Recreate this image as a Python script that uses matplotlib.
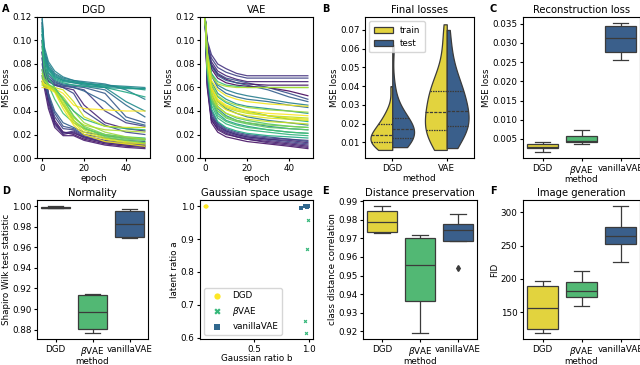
import numpy as np
import pandas as pd
import matplotlib
matplotlib.use("Agg")
import matplotlib.pyplot as plt
import seaborn as sns

plt.rcParams['font.family'] = ['DejaVu Sans']
plt.rcParams['font.size'] = 6.5
plt.rcParams['axes.titlesize'] = 7.2
plt.rcParams['axes.labelsize'] = 6.3
plt.rcParams['xtick.labelsize'] = 6.3
plt.rcParams['ytick.labelsize'] = 6.3
plt.rcParams['xtick.major.size'] = 2.5
plt.rcParams['ytick.major.size'] = 2.5
plt.rcParams['xtick.major.pad'] = 1.5
plt.rcParams['ytick.major.pad'] = 1.5
plt.rcParams['axes.linewidth'] = 0.8

# ---- data ----
epochs = [0, 1, 3, 6, 10, 15, 20, 30, 40, 49]

# DGD loss curves (colour value, losses at the epochs above)
dgd_c = [0.05, 0.10, 0.15, 0.08, 0.20, 0.25, 0.12, 0.30,
         0.10, 0.18, 0.28, 0.22, 0.35, 0.32,
         0.45, 0.50, 0.55, 0.42, 0.60, 0.48, 0.52,
         0.70, 0.75, 0.80, 0.85, 0.90, 0.95, 1.00, 0.98, 0.88, 0.65, 0.92, 0.78]
dgd_loss = [
    [0.115, 0.085, 0.055, 0.032, 0.022, 0.020, 0.016, 0.012, 0.010, 0.009],
    [0.100, 0.075, 0.050, 0.030, 0.020, 0.022, 0.017, 0.013, 0.011, 0.010],
    [0.090, 0.070, 0.045, 0.028, 0.021, 0.023, 0.018, 0.014, 0.012, 0.011],
    [0.070, 0.060, 0.042, 0.026, 0.019, 0.019, 0.015, 0.011, 0.009, 0.008],
    [0.085, 0.068, 0.050, 0.035, 0.025, 0.024, 0.019, 0.015, 0.013, 0.012],
    [0.075, 0.065, 0.052, 0.038, 0.027, 0.025, 0.020, 0.017, 0.015, 0.014],
    [0.065, 0.062, 0.048, 0.030, 0.022, 0.021, 0.018, 0.013, 0.011, 0.010],
    [0.080, 0.068, 0.055, 0.040, 0.030, 0.026, 0.022, 0.019, 0.017, 0.016],
    [0.090, 0.075, 0.065, 0.062, 0.060, 0.058, 0.045, 0.030, 0.025, 0.023],
    [0.095, 0.078, 0.068, 0.063, 0.061, 0.060, 0.058, 0.040, 0.030, 0.027],
    [0.100, 0.080, 0.070, 0.065, 0.062, 0.061, 0.060, 0.055, 0.035, 0.030],
    [0.085, 0.072, 0.066, 0.062, 0.060, 0.055, 0.040, 0.028, 0.022, 0.020],
    [0.105, 0.085, 0.072, 0.066, 0.063, 0.062, 0.061, 0.058, 0.045, 0.035],
    [0.090, 0.076, 0.068, 0.064, 0.062, 0.060, 0.057, 0.048, 0.032, 0.028],
    [0.120, 0.095, 0.082, 0.074, 0.069, 0.066, 0.064, 0.062, 0.061, 0.060],
    [0.115, 0.090, 0.078, 0.071, 0.067, 0.065, 0.063, 0.061, 0.060, 0.059],
    [0.110, 0.088, 0.075, 0.068, 0.065, 0.064, 0.063, 0.062, 0.060, 0.058],
    [0.118, 0.092, 0.080, 0.072, 0.068, 0.066, 0.065, 0.063, 0.058, 0.050],
    [0.105, 0.085, 0.073, 0.067, 0.064, 0.062, 0.061, 0.060, 0.056, 0.052],
    [0.112, 0.088, 0.077, 0.070, 0.066, 0.064, 0.062, 0.060, 0.048, 0.040],
    [0.108, 0.086, 0.076, 0.069, 0.066, 0.065, 0.064, 0.060, 0.059, 0.059],
    [0.095, 0.075, 0.062, 0.050, 0.038, 0.030, 0.025, 0.020, 0.018, 0.017],
    [0.070, 0.066, 0.062, 0.058, 0.045, 0.032, 0.025, 0.019, 0.016, 0.015],
    [0.068, 0.065, 0.062, 0.060, 0.050, 0.035, 0.027, 0.020, 0.017, 0.016],
    [0.065, 0.063, 0.061, 0.058, 0.052, 0.040, 0.030, 0.022, 0.018, 0.016],
    [0.062, 0.061, 0.060, 0.058, 0.048, 0.032, 0.024, 0.017, 0.014, 0.013],
    [0.064, 0.062, 0.060, 0.057, 0.045, 0.030, 0.022, 0.016, 0.013, 0.012],
    [0.066, 0.063, 0.061, 0.059, 0.055, 0.045, 0.042, 0.041, 0.040, 0.040],
    [0.060, 0.060, 0.059, 0.056, 0.042, 0.028, 0.020, 0.014, 0.012, 0.010],
    [0.072, 0.066, 0.062, 0.057, 0.046, 0.034, 0.028, 0.024, 0.023, 0.022],
    [0.100, 0.080, 0.068, 0.060, 0.050, 0.040, 0.033, 0.027, 0.025, 0.024],
    [0.063, 0.062, 0.061, 0.060, 0.058, 0.048, 0.035, 0.027, 0.026, 0.026],
    [0.075, 0.068, 0.063, 0.059, 0.050, 0.036, 0.026, 0.018, 0.015, 0.013],
]

vae_c = [0.05, 0.10, 0.15, 0.20, 0.08, 0.25, 0.12, 0.18,
         0.15, 0.20, 0.10, 0.25, 0.05, 0.30, 0.02,
         0.40, 0.45, 0.50, 0.35, 0.55, 0.42,
         0.65, 0.70, 0.75, 0.60, 0.68, 0.72, 0.62,
         0.90, 0.95, 1.00, 0.85, 0.92, 0.98, 0.88, 0.96, 0.80]
vae_loss = [
    [0.120, 0.060, 0.030, 0.022, 0.018, 0.016, 0.014, 0.012, 0.010, 0.008],
    [0.120, 0.065, 0.033, 0.024, 0.020, 0.018, 0.016, 0.013, 0.011, 0.009],
    [0.118, 0.068, 0.036, 0.026, 0.022, 0.019, 0.017, 0.015, 0.013, 0.011],
    [0.118, 0.070, 0.038, 0.028, 0.023, 0.020, 0.018, 0.016, 0.014, 0.012],
    [0.120, 0.062, 0.032, 0.025, 0.021, 0.018, 0.016, 0.014, 0.012, 0.010],
    [0.119, 0.072, 0.040, 0.030, 0.025, 0.022, 0.020, 0.018, 0.016, 0.014],
    [0.120, 0.064, 0.034, 0.027, 0.023, 0.020, 0.018, 0.016, 0.015, 0.013],
    [0.119, 0.066, 0.035, 0.029, 0.024, 0.021, 0.019, 0.017, 0.016, 0.015],
    [0.120, 0.100, 0.088, 0.080, 0.076, 0.072, 0.070, 0.070, 0.070, 0.070],
    [0.120, 0.098, 0.085, 0.077, 0.073, 0.070, 0.068, 0.068, 0.068, 0.068],
    [0.120, 0.096, 0.082, 0.074, 0.070, 0.067, 0.065, 0.065, 0.065, 0.065],
    [0.120, 0.095, 0.080, 0.072, 0.068, 0.066, 0.064, 0.060, 0.055, 0.050],
    [0.120, 0.094, 0.079, 0.071, 0.067, 0.064, 0.063, 0.062, 0.062, 0.062],
    [0.120, 0.093, 0.078, 0.070, 0.066, 0.064, 0.062, 0.058, 0.052, 0.048],
    [0.120, 0.092, 0.076, 0.068, 0.064, 0.062, 0.061, 0.060, 0.057, 0.053],
    [0.120, 0.085, 0.060, 0.048, 0.042, 0.038, 0.035, 0.032, 0.030, 0.028],
    [0.120, 0.082, 0.055, 0.042, 0.036, 0.032, 0.030, 0.027, 0.025, 0.024],
    [0.120, 0.088, 0.065, 0.055, 0.050, 0.046, 0.044, 0.042, 0.040, 0.038],
    [0.120, 0.090, 0.070, 0.060, 0.055, 0.052, 0.050, 0.048, 0.045, 0.043],
    [0.120, 0.078, 0.050, 0.038, 0.032, 0.029, 0.027, 0.024, 0.022, 0.021],
    [0.120, 0.092, 0.072, 0.062, 0.058, 0.055, 0.053, 0.050, 0.047, 0.045],
    [0.120, 0.075, 0.045, 0.034, 0.029, 0.026, 0.024, 0.022, 0.020, 0.019],
    [0.120, 0.078, 0.048, 0.036, 0.031, 0.028, 0.026, 0.024, 0.022, 0.021],
    [0.120, 0.080, 0.052, 0.040, 0.034, 0.031, 0.029, 0.026, 0.025, 0.024],
    [0.120, 0.072, 0.042, 0.031, 0.026, 0.023, 0.021, 0.019, 0.018, 0.017],
    [0.120, 0.090, 0.072, 0.065, 0.062, 0.061, 0.060, 0.060, 0.060, 0.060],
    [0.120, 0.083, 0.056, 0.044, 0.038, 0.034, 0.032, 0.029, 0.027, 0.026],
    [0.120, 0.086, 0.062, 0.052, 0.047, 0.043, 0.040, 0.036, 0.033, 0.031],
    [0.120, 0.082, 0.058, 0.048, 0.043, 0.040, 0.038, 0.036, 0.035, 0.034],
    [0.120, 0.080, 0.055, 0.046, 0.041, 0.038, 0.036, 0.034, 0.033, 0.032],
    [0.120, 0.084, 0.060, 0.050, 0.045, 0.042, 0.040, 0.038, 0.037, 0.036],
    [0.120, 0.086, 0.063, 0.053, 0.048, 0.045, 0.043, 0.041, 0.040, 0.039],
    [0.120, 0.078, 0.053, 0.043, 0.038, 0.035, 0.033, 0.031, 0.030, 0.029],
    [0.120, 0.088, 0.066, 0.058, 0.053, 0.050, 0.048, 0.046, 0.045, 0.044],
    [0.120, 0.090, 0.070, 0.063, 0.061, 0.060, 0.060, 0.060, 0.060, 0.060],
    [0.120, 0.083, 0.059, 0.049, 0.044, 0.041, 0.039, 0.036, 0.034, 0.033],
    [0.120, 0.076, 0.050, 0.040, 0.035, 0.032, 0.030, 0.028, 0.027, 0.026],
]

# final losses (violin)
dgd_train = [0.006, 0.007, 0.008, 0.009, 0.0095, 0.010, 0.010, 0.011, 0.012, 0.013, 0.014,
             0.014, 0.015, 0.016, 0.018, 0.020, 0.020, 0.022, 0.025, 0.028, 0.040]
dgd_test = [0.0075, 0.009, 0.010, 0.011, 0.012, 0.0125, 0.013, 0.014, 0.015, 0.016, 0.017,
            0.017, 0.018, 0.019, 0.021, 0.023, 0.024, 0.027, 0.030, 0.040, 0.062]
vae_train = [0.006, 0.010, 0.013, 0.015, 0.016, 0.0165, 0.017, 0.018, 0.020, 0.023, 0.026,
             0.030, 0.034, 0.036, 0.037, 0.0375, 0.039, 0.042, 0.050, 0.062, 0.073]
vae_test = [0.007, 0.012, 0.015, 0.017, 0.018, 0.019, 0.019, 0.020, 0.022, 0.025, 0.027,
            0.030, 0.033, 0.035, 0.037, 0.0375, 0.040, 0.045, 0.050, 0.058, 0.070]

methods = ['DGD', r'$\beta$VAE', 'vanillaVAE']
recon = [[0.0017, 0.0026, 0.0030, 0.0038, 0.0041],
         [0.0036, 0.0043, 0.0045, 0.0057, 0.0072],
         [0.0255, 0.0276, 0.0313, 0.0345, 0.0351]]
shapiro = [[0.9978, 0.9981, 0.9986, 0.9989, 0.9999],
           [0.877, 0.881, 0.8975, 0.914, 0.915],
           [0.9695, 0.9705, 0.9825, 0.995, 0.997]]
dist_corr = [[0.9727, 0.9735, 0.9788, 0.9848, 0.9872],
             [0.9193, 0.9365, 0.9558, 0.9703, 0.9720],
             [0.954, 0.9685, 0.9743, 0.9775, 0.9833]]
fid = [[119, 124, 156, 189, 197],
       [159, 172, 182, 195, 212],
       [226, 252, 264, 278, 309]]

gauss_b = [[0.05, 0.055, 0.06, 0.052, 0.058],
           [0.99, 0.98, 0.96, 0.97],
           [0.93, 0.965, 0.985, 0.99]]
gauss_a = [[1.0, 1.0, 1.0, 1.0, 1.0],
           [0.957, 0.871, 0.652, 0.615],
           [0.995, 1.0, 0.998, 1.0]]

box_cols = ['#e2d33e', '#52b874', '#3a5f8b']
dot_cols = ['#fde725', '#35b779', '#31688e']
dot_marks = ['o', 'X', 's']

W, H = 640, 365
fig = plt.figure(figsize=(6.4, 3.65), dpi=100)


def px(l, r, t, b):
    return [l / W, 1 - b / H, (r - l) / W, (b - t) / H]


def xlab(ax, text, gap):
    # put the x label a fixed number of pixels under the axes
    ax.set_xlabel(text)
    h = ax.get_position().height * H
    ax.xaxis.set_label_coords(0.5, -gap / h)


def boxes(ax, vals, title, ylabel):
    df = pd.DataFrame({'method': np.repeat(methods, [len(v) for v in vals]),
                       'v': np.concatenate(vals)})
    sns.boxplot(data=df, x='method', y='v', hue='method', palette=box_cols,
                saturation=1, linewidth=0.9, legend=False, ax=ax,
                flierprops=dict(marker='d', markersize=3, markerfacecolor='#3d3d3d'))
    ax.set_title(title, pad=3)
    ax.set_ylabel(ylabel, labelpad=1)


R1T, R1B = 17, 158
R2T, R2B = 200, 339

# A: training curves
for i, (name, cs, losses) in enumerate([('DGD', dgd_c, dgd_loss), ('VAE', vae_c, vae_loss)]):
    ax = fig.add_axes(px([37, 200][i], [150, 313][i], R1T, R1B))
    for c, l in zip(cs, losses):
        ax.plot(epochs, l, color=plt.cm.viridis(c), lw=0.9, alpha=0.9)
    ax.set_ylim(0, 0.12)
    ax.set_yticks(np.arange(0, 0.121, 0.02))
    ax.set_xticks([0, 20, 40])
    ax.set_title(name, pad=3)
    xlab(ax, 'epoch', 16)
    ax.set_ylabel('MSE loss', labelpad=1)

# B: final losses violin
ax = fig.add_axes(px(365, 474, R1T, R1B))
vdf = pd.DataFrame({
    'method': ['DGD'] * (len(dgd_train) + len(dgd_test)) + ['VAE'] * (len(vae_train) + len(vae_test)),
    'set': ['train'] * len(dgd_train) + ['test'] * len(dgd_test) + ['train'] * len(vae_train) + ['test'] * len(vae_test),
    'loss': dgd_train + dgd_test + vae_train + vae_test})
sns.violinplot(data=vdf, x='method', y='loss', hue='set', split=True, inner='quart',
               cut=0, density_norm='width', bw_adjust=1.1,
               palette=[box_cols[0], box_cols[2]], saturation=1, linewidth=0.9, ax=ax)
h, lab = ax.get_legend_handles_labels()
ax.legend(h, lab, loc='upper left', fontsize=6.3, handlelength=2.2, borderpad=0.5)
ax.set_yticks([0.01, 0.02, 0.03, 0.04, 0.05, 0.06, 0.07])
ax.set_ylim(0.0017, 0.0769)
ax.set_title('Final losses', pad=3)
xlab(ax, 'method', 16)
ax.set_ylabel('MSE loss', labelpad=1)

# C
ax = fig.add_axes(px(523, 640, R1T, R1B))
boxes(ax, recon, 'Reconstruction loss', 'MSE loss')
ax.set_yticks([0.005, 0.010, 0.015, 0.020, 0.025, 0.030, 0.035])
xlab(ax, 'method', 17.5)

# D
ax = fig.add_axes(px(37, 148, R2T, R2B))
boxes(ax, shapiro, 'Normality', 'Shapiro Wilk test statistic')
ax.set_yticks([0.88, 0.90, 0.92, 0.94, 0.96, 0.98, 1.00])
xlab(ax, 'method', 17.5)

# Gaussian space usage
ax = fig.add_axes(px(200, 313, R2T, R2B))
for k in range(3):
    ax.scatter(gauss_b[k], gauss_a[k], s=7, color=dot_cols[k], marker=dot_marks[k],
               linewidths=0, label=methods[k])
ax.set_xticks([0.5, 1.0])
ax.set_yticks([0.6, 0.7, 0.8, 0.9, 1.0])
ax.set_title('Gaussian space usage', pad=3)
xlab(ax, 'Gaussian ratio b', 15)
ax.set_ylabel('latent ratio a', labelpad=1)
ax.legend(loc='lower left', fontsize=6.3, markerscale=1.7)

# E
ax = fig.add_axes(px(363, 477, R2T, R2B))
boxes(ax, dist_corr, 'Distance preservation', 'class distance correlation')
ax.set_yticks([0.92, 0.93, 0.94, 0.95, 0.96, 0.97, 0.98, 0.99])
xlab(ax, 'method', 17.5)

# F
ax = fig.add_axes(px(523, 640, R2T, R2B))
boxes(ax, fid, 'Image generation', 'FID')
ax.set_yticks([150, 200, 250, 300])
xlab(ax, 'method', 17.5)

for lab, x, y in [('A', 2, 4), ('B', 322, 4), ('C', 490, 4), ('D', 2, 186), ('E', 322, 186), ('F', 490, 186)]:
    fig.text(x / W, 1 - y / H, lab, fontsize=7, fontweight='bold', va='top', ha='left')

fig.savefig('out.png', dpi=100)
